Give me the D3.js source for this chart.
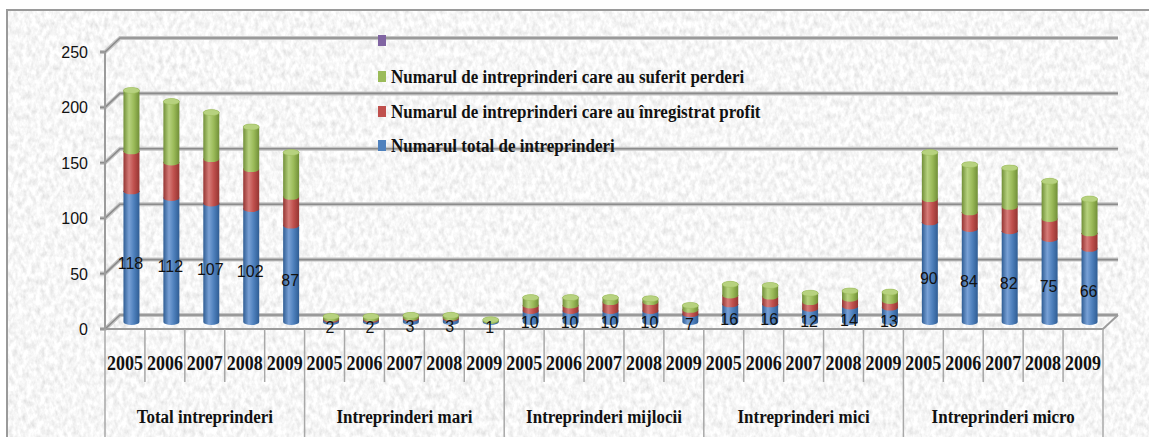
<!DOCTYPE html>
<html>
<head>
<meta charset="utf-8">
<script src="https://cdn.jsdelivr.net/npm/d3@7"></script>
<style>
  body { margin: 0; background: #fff; }
  svg { display: block; }
</style>
</head>
<body>
<div id="chart"></div>
<script>
var groups = ["Total intreprinderi", "Intreprinderi mari", "Intreprinderi mijlocii", "Intreprinderi mici", "Intreprinderi micro"];
var years = ["2005", "2006", "2007", "2008", "2009"];
var seriesNames = ["Numarul total de intreprinderi", "Numarul de intreprinderi care au înregistrat profit", "Numarul de intreprinderi care au suferit perderi", ""];
var totalVals  = [118, 112, 107, 102, 87,  2, 2, 3, 3, 1,  10, 10, 10, 10, 7,  16, 16, 12, 14, 13,  90, 84, 82, 75, 66];
var profitVals = [36, 32, 40, 36, 26,  1, 1, 1, 1, 0,  5, 5, 8, 8, 4,  8, 7, 6, 7, 6,  21, 15, 22, 18, 14];
var lossVals   = [55, 55, 42, 38, 40,  2, 2, 2, 2, 1,  7, 7, 4, 3, 4,  10, 10, 8, 7, 8,  42, 43, 35, 34, 31];
var yTicks = [0, 50, 100, 150, 200, 250];

var colors = ["#4f81bd", "#c0504d", "#9bbb59", "#8064a2"];
var darks  = ["#2f5d94", "#943532", "#718f38", "#5c4580"];
var lights = ["#79a1d6", "#d67c79", "#b7d27f", "#a08bc2"];

var width = 1149, height = 437;
var dx = 15, dy = 14;

var svg = d3.select("#chart")
  .append("svg")
    .attr("width", width)
    .attr("height", height);

var defs = svg.append("defs");

// paper-like texture
var f = defs.append("filter").attr("id", "paper")
  .attr("x", 0).attr("y", 0).attr("width", 1).attr("height", 1);
f.append("feTurbulence")
  .attr("type", "fractalNoise")
  .attr("baseFrequency", "0.22 0.14")
  .attr("numOctaves", 3)
  .attr("seed", 7);
f.append("feColorMatrix")
  .attr("type", "matrix")
  .attr("values", "0.45 0 0 0 0.7  0.45 0 0 0 0.7  0.45 0 0 0 0.7  0 0 0 0 1");

colors.forEach(function(c, i) {
  var g = defs.append("linearGradient").attr("id", "cyl" + i)
    .attr("x1", "0%").attr("x2", "100%").attr("y1", "0%").attr("y2", "0%");
  g.append("stop").attr("offset", "0%").attr("stop-color", darks[i]);
  g.append("stop").attr("offset", "35%").attr("stop-color", lights[i]);
  g.append("stop").attr("offset", "65%").attr("stop-color", c);
  g.append("stop").attr("offset", "100%").attr("stop-color", darks[i]);
});

// background box
svg.append("rect")
  .attr("x", 7).attr("y", 10)
  .attr("width", width - 7).attr("height", height - 10)
  .attr("filter", "url(#paper)");
svg.append("path")
  .attr("d", "M7," + height + "V10H" + width)
  .attr("fill", "none")
  .attr("stroke", "#9a9a9a")
  .attr("stroke-width", 2);

var x0 = 105, x1 = 1103;
var n = totalVals.length;

var x = d3.scaleBand()
  .domain(d3.range(n))
  .range([x0, x1]);

var yFront = d3.scaleLinear().domain([0, 250]).range([329, 52]);
var yBack = d3.scaleLinear().domain([0, 250]).range([329 - dy, 52 - dy]);
var yBar = d3.scaleLinear().domain([0, 250]).range([329 - dy / 2, 52 - dy / 2]);

// gridlines on back wall + left wall
var grid = svg.append("g");
yTicks.forEach(function(t) {
  var d = "M" + (x0 - 5) + "," + yFront(t) + "H" + x0 + "L" + (x0 + dx) + "," + yBack(t) + "H" + (x1 + dx);
  grid.append("path")
    .attr("d", d)
    .attr("stroke", "#c4c4c4").attr("stroke-width", 4).attr("fill", "none");
  grid.append("path")
    .attr("d", d)
    .attr("stroke", "#8c8c8c").attr("stroke-width", 1.6).attr("fill", "none");
});

// floor front edge and right edge
svg.append("path")
  .attr("d", "M" + x0 + "," + yFront(0) + "H" + x1 + "L" + (x1 + dx) + "," + yBack(0))
  .attr("stroke", "#9c9c9c").attr("stroke-width", 2).attr("fill", "none");

// value axis line
svg.append("line")
  .attr("x1", x0).attr("x2", x0)
  .attr("y1", yFront(250)).attr("y2", yFront(0))
  .attr("stroke", "#9c9c9c").attr("stroke-width", 2);

svg.append("g")
  .selectAll("text")
  .data(yTicks)
  .enter()
  .append("text")
    .attr("x", 88)
    .attr("y", function(d) { return yFront(d) + 6; })
    .attr("text-anchor", "end")
    .style("font-family", "'Liberation Sans', Arial, sans-serif")
    .style("font-size", "16px")
    .attr("fill", "#111")
    .text(function(d) { return d; });

// category separators
var sep = svg.append("g").attr("stroke", "#a8a8a8").attr("stroke-width", 1.5);
for (var i = 0; i <= n; i++) {
  var xs = i < n ? x(i) : x1;
  sep.append("line")
    .attr("x1", xs).attr("x2", xs)
    .attr("y1", yFront(0))
    .attr("y2", i % 5 === 0 ? height : 382);
}

// stacked cylinders
var stacks = totalVals.map(function(v, i) {
  return [v, profitVals[i], lossVals[i]];
});

var rx = 8, ry = 3;
var bars = svg.append("g");
stacks.forEach(function(s, i) {
  var cx = x(i) + x.bandwidth() / 2 + dx / 2 - 1;
  var base = 0;
  s.forEach(function(v, k) {
    var yb = yBar(base), yt = yBar(base + v);
    base += v;
    if (v <= 0) return;
    bars.append("path")
      .attr("d", "M" + (cx - rx) + "," + yt + "L" + (cx - rx) + "," + yb +
        "A" + rx + "," + ry + " 0 0 0 " + (cx + rx) + "," + yb +
        "L" + (cx + rx) + "," + yt +
        "A" + rx + "," + ry + " 0 0 0 " + (cx - rx) + "," + yt + "Z")
      .attr("fill", "url(#cyl" + k + ")");
  });
  // top cap
  bars.append("ellipse")
    .attr("cx", cx).attr("cy", yBar(base))
    .attr("rx", rx).attr("ry", ry)
    .attr("fill", lights[2])
    .attr("stroke", colors[2]).attr("stroke-width", 0.5);
});

// data labels on total series
svg.append("g")
  .selectAll("text")
  .data(totalVals)
  .enter()
  .append("text")
    .attr("x", function(d, i) { return x(i) + x.bandwidth() / 2 + dx / 2 - 2; })
    .attr("y", function(d) { return yBar(d / 2) + 12; })
    .attr("text-anchor", "middle")
    .style("font-family", "'Liberation Sans', Arial, sans-serif")
    .style("font-size", "16px")
    .attr("fill", "#111")
    .text(function(d) { return d; });

// serif bold text, slightly stretched vertically like the original
function serifText(g, tx, ty, str, anchor, size) {
  return g.append("text")
    .attr("transform", "translate(" + tx + "," + ty + ") scale(1,1.12)")
    .attr("text-anchor", anchor)
    .style("font-family", "'Liberation Serif', 'Times New Roman', serif")
    .style("font-weight", "bold")
    .style("font-size", size + "px")
    .attr("fill", "#111")
    .text(str);
}

var labels = svg.append("g");
d3.range(n).forEach(function(i) {
  serifText(labels, x(i) + x.bandwidth() / 2, 370, years[i % 5], "middle", 18);
});
groups.forEach(function(gname, j) {
  serifText(labels, (x(j * 5) + (j < 4 ? x(j * 5 + 5) : x1)) / 2, 423, gname, "middle", 17);
});

// legend (top to bottom: empty, losses, profit, total)
var legendOrder = [3, 2, 1, 0];
var legendY = [40, 76, 111, 145];
var legend = svg.append("g");
legendOrder.forEach(function(k, j) {
  legend.append("rect")
    .attr("x", 378).attr("y", legendY[j] - 5)
    .attr("width", 8).attr("height", 11)
    .attr("fill", colors[k]);
  if (seriesNames[k]) {
    serifText(legend, 391, legendY[j] + 7, seriesNames[k], "start", 17);
  }
});
</script>
</body>
</html>
